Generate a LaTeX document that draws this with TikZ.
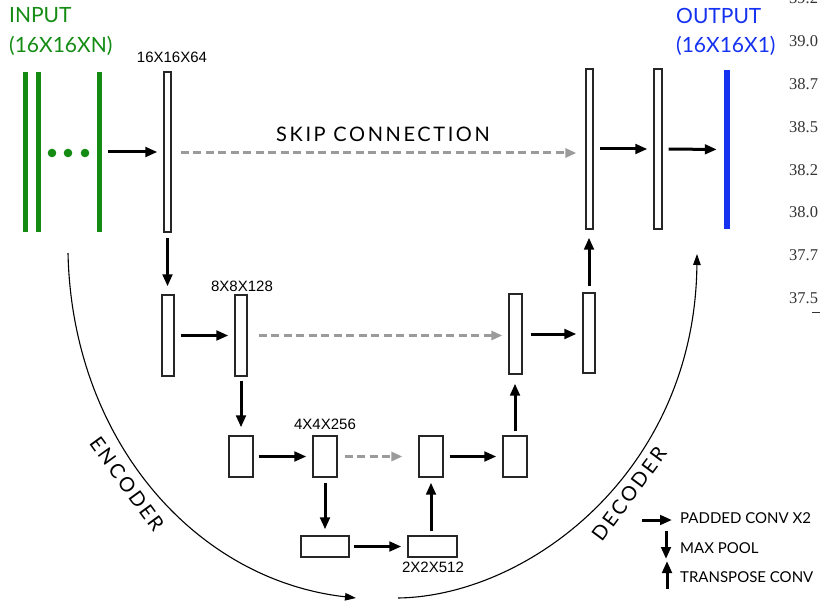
\documentclass[tikz,border=0pt]{standalone}
\usepackage{fontspec}
\usetikzlibrary{arrows.meta}
\newfontfamily\avfont{Lato}
\newfontfamily\avspfont[LetterSpace=13]{Lato}
\newfontfamily\arfont{Liberation Sans}
\newfontfamily\tmfont{Liberation Serif}
\definecolor{ingreen}{RGB}{20,140,20}
\definecolor{outblue}{RGB}{20,50,240}
\definecolor{skipgray}{RGB}{155,155,155}
\begin{document}
\begin{tikzpicture}[x=1bp,y=-1bp,
  layer/.style={draw=black!85, line width=1.2bp, fill=white, inner sep=0pt},
  inbar/.style={fill=ingreen, inner sep=0pt, minimum width=5bp, minimum height=160bp},
  arr/.style={line width=3bp, -{Triangle[length=12bp,width=9.5bp]}},
  skip/.style={line width=3bp, skipgray, dash pattern=on 8bp off 4.5bp,
               -{Triangle[length=11bp,width=9bp]}},
  arcarrow/.style={line width=1.1bp, -{Triangle[length=11bp,width=7.5bp]}},
  dims/.style={font=\arfont\fontsize{15bp}{18bp}\selectfont, anchor=base, inner sep=0pt},
  title/.style={font=\avfont\fontsize{21bp}{24bp}\selectfont, anchor=base west, inner sep=0pt},
  spaced/.style={font=\avspfont\fontsize{20bp}{23bp}\selectfont, inner sep=0pt},
  legend/.style={font=\avfont\fontsize{15bp}{18bp}\selectfont, anchor=base west, inner sep=0pt},
  axisnum/.style={font=\tmfont\fontsize{16.5bp}{19bp}\selectfont, anchor=base west, inner sep=0pt, text=black!80}
]
\useasboundingbox (0,0) rectangle (821,603);

% input channels
\node[inbar] (in1) at (25.5,152) {};
\node[inbar] (in2) at (38,152) {};
\node[inbar] (in3) at (99.5,152) {};
\foreach \x [count=\i] in {52,68,85}
  \node[circle, fill=ingreen, minimum size=8.6bp, inner sep=0pt] (dot\i) at (\x,153) {};
\node[title, text=ingreen] (intitle) at (9,23) {INPUT};
\node[title, text=ingreen] (insize) at (9,52.5) {(16X16XN)};

% encoder / decoder layers
\node[layer, minimum width=7bp, minimum height=160bp] (b1) at (167.5,152) {};
\node[layer, minimum width=7bp, minimum height=160bp] (r1) at (589.5,149) {};
\node[layer, minimum width=8bp, minimum height=160bp] (r2) at (658,149) {};
\node[fill=outblue, inner sep=0pt, minimum width=6bp, minimum height=159bp] (out) at (727,149.5) {};

\node[layer, minimum width=12bp, minimum height=81bp] (l2a) at (168,335.5) {};
\node[layer, minimum width=12bp, minimum height=81bp] (l2b) at (241,335.5) {};
\node[layer, minimum width=13bp, minimum height=80bp] (l2c) at (515.5,334) {};
\node[layer, minimum width=12bp, minimum height=80bp] (l2d) at (589,333) {};

\node[layer, minimum width=24bp, minimum height=41bp] (l3a) at (241,456.5) {};
\node[layer, minimum width=24bp, minimum height=41bp] (l3b) at (325,456.5) {};
\node[layer, minimum width=24bp, minimum height=41bp] (l3c) at (431,456.5) {};
\node[layer, minimum width=24bp, minimum height=41bp] (l3d) at (515,456.5) {};

\node[layer, minimum width=48bp, minimum height=21bp] (l4a) at (325,546.5) {};
\node[layer, minimum width=49bp, minimum height=21bp] (l4b) at (432.5,546.5) {};

% size labels
\node[dims] (lb1) at (172,63) {16X16X64};
\node[dims] (lb2) at (242,291) {8X8X128};
\node[dims] (lb3) at (325,429) {4X4X256};
\node[dims] (lb4) at (433,572) {2X2X512};

\node[title, text=outblue] (outtitle) at (676,23.3) {OUTPUT};
\node[title, text=outblue] (outsize) at (676,53) {(16X16X1)};

% convolutions
\draw[arr, shorten <=6bp, shorten >=6bp] (in3) -- (b1);
\draw[arr, shorten <=6bp, shorten >=6bp] (r1) -- (r2);
\draw[arr, shorten <=6bp, shorten >=7bp] (r2) -- (out);
\draw[arr, shorten <=6bp, shorten >=6bp] (l2a) -- (l2b);
\draw[arr, shorten <=8bp, shorten >=6bp] (l2c.east) -- (l2c.east -| l2d.west);
\draw[arr, shorten <=5bp, shorten >=6bp] (l3a) -- (l3b);
\draw[arr, shorten <=6bp, shorten >=6bp] (l3c) -- (l3d);
\draw[arr, shorten <=4bp, shorten >=6bp] (l4a) -- (l4b);

% skip connections
\draw[skip, shorten <=9bp, shorten >=9bp] (b1.east |- 0,153) -- (r1.west |- 0,153);
\draw[skip, shorten <=11bp, shorten >=6bp] (l2b.east) -- (l2b.east -| l2c.west);
\draw[skip, shorten <=7bp, shorten >=16bp] (l3b) -- (l3c);
\node[spaced, anchor=base] (skiplabel) at (383,142) {SKIP CONNECTION};

% max pooling
\draw[arr, shorten <=5bp, shorten >=8bp] (b1.south) -- (b1.south |- l2a.north);
\draw[arr, shorten <=4bp, shorten >=8bp] (l2b.south) -- (l2b.south |- l3a.north);
\draw[arr, shorten <=5bp, shorten >=6bp] (l3b.south) -- (l3b.south |- l4a.north);

% transpose convolutions
\draw[arr, shorten <=4bp, shorten >=5bp] (l4b.north -| l3c.south) -- (l3c.south);
\draw[arr, shorten <=4bp, shorten >=9bp] (l3d.north) -- (l3d.north |- l2c.south);
\draw[arr, shorten <=6bp, shorten >=8bp] (l2d.north) -- (l2d.north |- r1.south);

% encoder and decoder arcs
\coordinate (encS) at (68,253);
\coordinate (encE) at (356,598);
\coordinate (decS) at (398,598);
\coordinate (decE) at (697,254);
\draw[arcarrow] (encS) .. controls (72,440) and (195,580) .. (encE);
\draw[arcarrow] (decS) .. controls (530,596) and (695,470) .. (decE);
\node[spaced, rotate=-54] (enclabel) at (127,484) {ENCODER};
\node[spaced, rotate=53.5] (declabel) at (629,494) {DECODER};

% legend
\coordinate (lgA1) at (642,520);
\coordinate (lgA2) at (672,520);
\coordinate (lgB1) at (666,531);
\coordinate (lgB2) at (666,559);
\coordinate (lgC1) at (667,589);
\coordinate (lgC2) at (667,561);
\draw[arr] (lgA1) -- (lgA2);
\draw[arr] (lgB1) -- (lgB2);
\draw[arr] (lgC1) -- (lgC2);
\node[legend] (lgtA) at (680,523) {PADDED CONV X2};
\node[legend] (lgtB) at (680,553) {MAX POOL};
\node[legend] (lgtC) at (680,582) {TRANSPOSE CONV};

% scale values along the right edge
\foreach \v [count=\i from 0] in {39.2,39.0,38.7,38.5,38.2,38.0,37.7,37.5}
  \node[axisnum] (ax\i) at (789,3.9+42.8*\i) {\v};
\draw[line width=1bp, black!80] (812,312) -- (820,312);
\end{tikzpicture}
\end{document}
